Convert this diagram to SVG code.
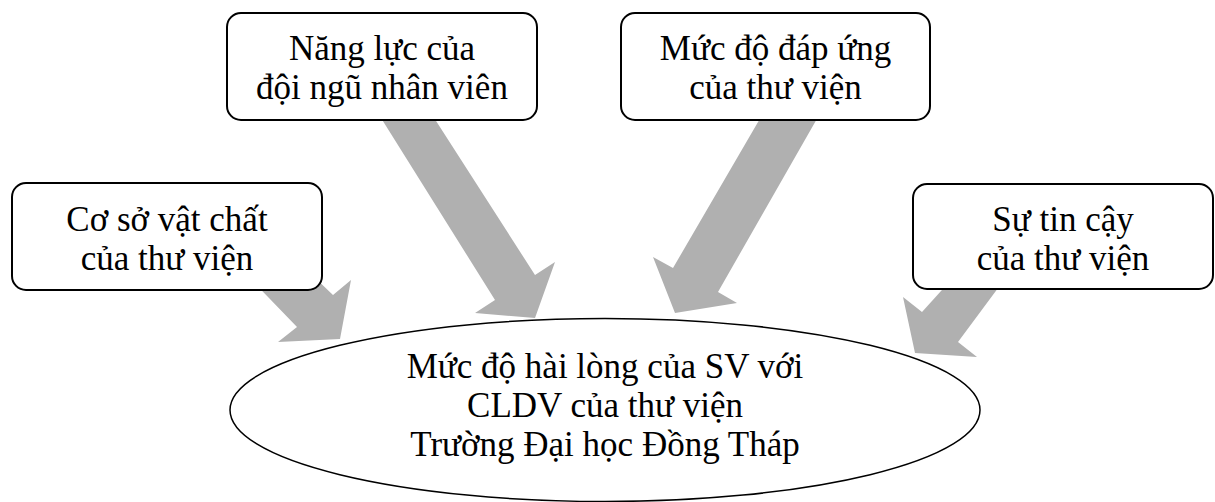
<svg xmlns="http://www.w3.org/2000/svg" width="1215" height="502" viewBox="0 0 1215 502">
<style>
.box{fill:#fff;stroke:#000;stroke-width:2}
.arr{fill:#b0b0b0;stroke:none}
.t{font-family:"Liberation Serif","Times New Roman",serif;font-size:35px;fill:#000;text-anchor:middle}
</style>
<rect width="1215" height="502" fill="#fff"/>
<g id="connectors">
<polygon class="arr" points="240,268 297,327 278,342 340,339 351,280 333,295 286,250"/>
<polygon class="arr" points="376,110 495,300 475,313 535,318 555,262 535,275 429,110"/>
<polygon class="arr" points="765,110 673,268 653,257 675,313 737,303 718,292 822,110"/>
<polygon class="arr" points="1004,280 958,342 977,357 915,353 903,297 922,312 951,280"/>
</g>
<g id="center">
<ellipse cx="605" cy="410" rx="375" ry="91.5" fill="#fff" stroke="#000" stroke-width="1.5"/>
<text class="t" x="605" y="378">Mức độ hài lòng của SV với</text>
<text class="t" x="605" y="417">CLDV của thư viện</text>
<text class="t" x="605" y="456">Trường Đại học Đồng Tháp</text>
</g>
<g id="n1">
<rect class="box" x="12" y="183" width="310" height="107" rx="14"/>
<text class="t" x="167" y="231">Cơ sở vật chất</text>
<text class="t" x="167" y="270">của thư viện</text>
</g>
<g id="n2">
<rect class="box" x="227" y="13" width="310" height="107" rx="14"/>
<text class="t" x="382" y="60">Năng lực của</text>
<text class="t" x="382" y="99">đội ngũ nhân viên</text>
</g>
<g id="n3">
<rect class="box" x="621" y="13" width="309" height="107" rx="14"/>
<text class="t" x="775.5" y="60">Mức độ đáp ứng</text>
<text class="t" x="775.5" y="99">của thư viện</text>
</g>
<g id="n4">
<rect class="box" x="913" y="184" width="300" height="105" rx="14"/>
<text class="t" x="1063" y="231">Sự tin cậy</text>
<text class="t" x="1063" y="270">của thư viện</text>
</g>
</svg>
